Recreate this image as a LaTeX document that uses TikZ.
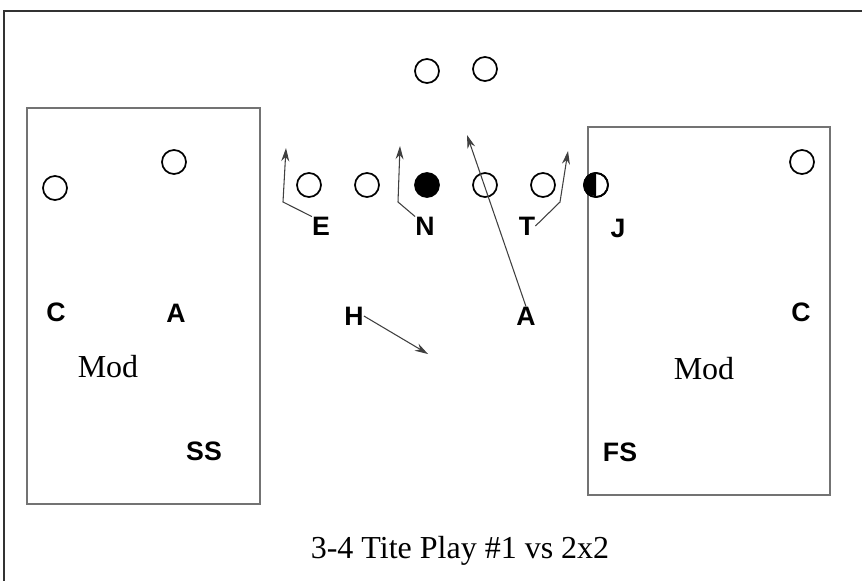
\documentclass[tikz,border=0pt]{standalone}
\usepackage{fontspec}
\setmainfont{Liberation Serif}
\setsansfont{Liberation Sans}
\usetikzlibrary{arrows.meta}

\begin{document}
\begin{tikzpicture}[x=0.75pt, y=-0.75pt,
    player/.style={circle, draw, line width=1.3pt, minimum size=18pt, inner sep=0pt},
    tag/.style={font=\sffamily\bfseries\fontsize{20}{20}\selectfont, inner sep=0pt},
    note/.style={font=\fontsize{24}{28}\selectfont, inner sep=0pt},
    zone/.style={draw=black!55, line width=1.1pt},
    route/.style={draw=black!75, line width=0.8pt, -{Stealth[length=10pt, width=6pt]}}]
    \useasboundingbox (0,0) rectangle (862,581);

    % --- frame ---
    \draw[line width=1.2pt, black!80] (862,11) -- (4,11) -- (4,581);

    % --- zone boxes ---
    \draw[zone] (27,108) rectangle (260,504);
    \draw[zone] (588,127) rectangle (830,495);

    % --- offense ---
    \foreach \name/\x/\y in {qbl/427/71, qbr/485/69, wl/55/188, sl/174/162, wr/802/162,
                             ol/309/185, lg/367/185, oc/485/185, rg/543/185}
        \node[player] (\name) at (\x,\y) {};
    \node[player, fill=black] (ball) at (427,185) {};
    \node[player] (te) at (596,185) {};
    \fill (te.north) arc[start angle=90, end angle=270, radius=9pt] -- cycle;
    \node[player] at (te) {};

    % --- defense ---
    \node[tag] (E) at (321,226) {E};
    \node[tag] (N) at (425,226) {N};
    \node[tag] (T) at (527,226) {T};
    \node[tag] (J) at (618,228) {J};
    \node[tag] (H) at (354,316) {H};
    \node[tag] (Am) at (526,316) {A};
    \node[tag] (Cl) at (56,312) {C};
    \node[tag] (Al) at (176,313) {A};
    \node[tag] (SS) at (204,451) {SS};
    \node[tag] (Cr) at (801,312) {C};
    \node[tag] (FS) at (620,452) {FS};

    \node[note, anchor=base] (modl) at (108,377) {Mod};
    \node[note, anchor=base] (modr) at (704,379) {Mod};

    % --- rush paths ---
    \coordinate (ebend) at (283,202); \coordinate (eend) at (286,148);
    \coordinate (nbend) at (398,202); \coordinate (nend) at (400,146);
    \coordinate (tbend) at (560,202); \coordinate (tend) at (568,151);
    \coordinate (aend) at (467,135);
    \coordinate (hend) at (428,354);

    \draw[route] (E.north west) -- (ebend) -- (eend);
    \draw[route] (N.north west) -- (nbend) -- (nend);
    \draw[route] (T.east) -- (tbend) -- (tend);
    \draw[route] (Am.north) -- (aend);
    \draw[route] (H.east) -- (hend);

    \node[note, anchor=base] (title) at (460,558) {3-4 Tite Play \#1 vs 2x2};
\end{tikzpicture}
\end{document}
